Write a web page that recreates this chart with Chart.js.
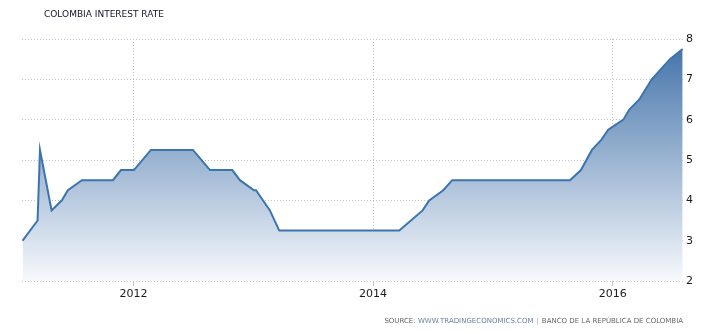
<!DOCTYPE html>
<html>
<head>
<meta charset="utf-8">
<script src="https://cdn.jsdelivr.net/npm/chart.js@4/dist/chart.umd.min.js"></script>
<style>
  html, body { margin: 0; padding: 0; background: #fff; }
  #wrap { position: relative; width: 715px; height: 334px; }
  #title { position: absolute; left: 44px; top: 9px; font: 9px "DejaVu Sans", sans-serif; color: #14142a; white-space: nowrap; }
  #source { position: absolute; right: 32px; top: 317px; font: 7px "DejaVu Sans", sans-serif; color: #666; white-space: nowrap; }
  #source .site { color: #6a82a4; }
  #source .sep { color: #aaa; margin: 0 3px; }
</style>
</head>
<body>
<div id="wrap">
  <canvas id="rate" width="715" height="334"></canvas>
  <div id="title">COLOMBIA INTEREST RATE</div>
  <div id="source">SOURCE: <span class="site">WWW.TRADINGECONOMICS.COM</span><span class="sep">|</span>BANCO DE LA REPÚBLICA DE COLOMBIA</div>
</div>
<script>
// dates as decimal years
const dates = [
    2011.075, 2011.200, 2011.220, 2011.317, 2011.403, 2011.453, 2011.570, 2011.829,
    2011.896, 2012.004, 2012.146, 2012.497, 2012.639, 2012.825, 2012.889, 2013.006,
    2013.023, 2013.139, 2013.217, 2014.219, 2014.414, 2014.469, 2014.586, 2014.661,
    2015.644, 2015.735, 2015.827, 2015.905, 2015.963, 2016.089, 2016.139, 2016.222,
    2016.326, 2016.478, 2016.584
]
const rates = [
    3.00, 3.50, 5.25, 3.75, 4.00, 4.25, 4.50, 4.50,
    4.75, 4.75, 5.25, 5.25, 4.75, 4.75, 4.50, 4.25,
    4.25, 3.75, 3.25, 3.25, 3.75, 4.00, 4.25, 4.50,
    4.50, 4.75, 5.25, 5.50, 5.75, 6.00, 6.25, 6.50,
    7.00, 7.50, 7.75
]
const yearTicks = [2012, 2014, 2016]
const rateTicks = [2, 3, 4, 5, 6, 7, 8]

const points = dates.map((d, i) => ({ x: d, y: rates[i] }))

const context = document.getElementById('rate').getContext('2d')

const gridColor = '#c4c4c4'
const tickFont = { family: 'DejaVu Sans', size: 11 }

const chart = new Chart(context, {
    type: 'line',
    data: {
        datasets: [{
            data: points,
            borderColor: '#3b74ae',
            borderWidth: 2,
            pointRadius: 0,
            tension: 0,
            fill: 'start',
            backgroundColor: (ctx) => {
                const area = ctx.chart.chartArea
                if (!area) return 'rgba(69,118,173,0.5)'
                const g = ctx.chart.ctx.createLinearGradient(0, area.top, 0, area.bottom)
                g.addColorStop(0, '#3f70a8')
                g.addColorStop(1, '#f7f9fc')
                return g
            }
        }]
    },
    options: {
        responsive: false,
        animation: false,
        layout: { padding: { left: 22, top: 39, right: 0, bottom: 0 } },
        plugins: {
            legend: { display: false },
            tooltip: { enabled: false }
        },
        scales: {
            x: {
                type: 'linear',
                min: 2011.07,
                max: 2016.587,
                afterBuildTicks: (scale) => {
                    scale.ticks = yearTicks.map(v => ({ value: v }))
                },
                afterFit: (scale) => { scale.height = 53 },
                ticks: {
                    color: '#1a1a1a',
                    font: tickFont,
                    padding: 2,
                    maxRotation: 0,
                    callback: (v) => String(v)
                },
                grid: {
                    color: gridColor,
                    tickColor: gridColor,
                    tickLength: 5
                },
                border: { display: false, dash: [1, 2] }
            },
            y: {
                position: 'right',
                min: 2,
                max: 8,
                afterBuildTicks: (scale) => {
                    scale.ticks = rateTicks.map(v => ({ value: v }))
                },
                afterFit: (scale) => { scale.width = 32 },
                ticks: {
                    color: '#1a1a1a',
                    font: tickFont,
                    padding: 3
                },
                grid: {
                    color: gridColor,
                    drawTicks: false
                },
                border: { display: false, dash: [1, 2] }
            }
        }
    }
})
</script>
</body>
</html>
